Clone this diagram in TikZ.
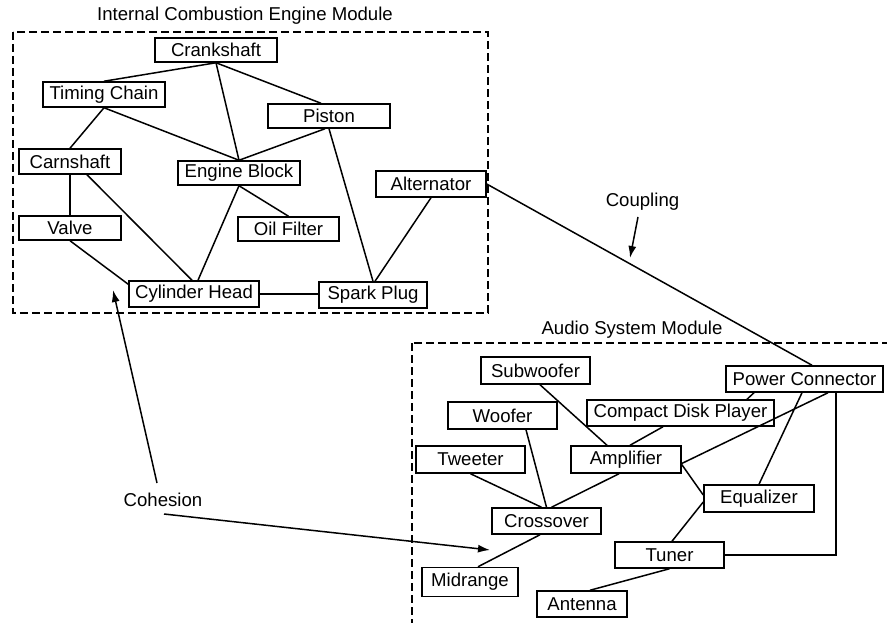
\documentclass[tikz,border=0pt]{standalone}
\usepackage{fontspec}
\setmainfont{Liberation Sans}
\usepackage{tikz}
\usetikzlibrary{positioning}
\usetikzlibrary{calc}
\usetikzlibrary{arrows.meta}

\begin{document}
\begin{tikzpicture}[x=1pt, y=-1pt, line width=1.5pt,
    font=\fontsize{18.6}{22}\selectfont,
    part/.style={draw, rectangle, inner sep=0pt, minimum height=26pt},
    module/.style={dashed, dash pattern=on 8pt off 4pt},
    pointer/.style={-{Latex[length=12pt,width=8pt]}}]
    \clip (0,0) rectangle (887,623);

    % engine module
    \draw[module] (13,32) rectangle (488,313);
    \node (enginetitle) at (245,16) {Internal Combustion Engine Module};

    \node[part, minimum width=122pt, minimum height=24pt] (crank) at (216,50) {Crankshaft};
    \node[part, minimum width=122pt, minimum height=25pt] (chain) at (104,94.5) {Timing Chain};
    \node[part, minimum width=122pt, minimum height=24pt] (piston) at (329,116) {Piston};
    \node[part, minimum width=102pt, minimum height=25pt] (cam) at (70,161.5) {Carnshaft};
    \node[part, minimum width=122pt, minimum height=24pt] (block) at (239,173) {Engine Block};
    \node[part, minimum width=110pt] (alt) at (431,184) {Alternator};
    \node[part, minimum width=102pt, minimum height=24pt] (valve) at (70,228) {Valve};
    \node[part, minimum width=101pt, minimum height=24pt] (oil) at (288.5,229) {Oil Filter};
    \node[part, minimum width=130pt] (head) at (194,294) {Cylinder Head};
    \node[part, minimum width=108pt] (plug) at (373,295) {Spark Plug};

    \draw (crank.south) -- (chain.north);
    \draw (crank.south) -- ($(piston.north)+(-8,0)$);
    \draw (crank.south) -- (block.north);
    \draw (chain.south) -- (cam.north);
    \draw (chain.south) -- (block.north);
    \draw ($(piston.south)+(-4,0)$) -- (block.north);
    \draw (piston.south) -- (plug.north);
    \draw (cam.south) -- (valve.north);
    \draw ($(cam.south)+(17,0)$) -- ($(head.north)+(-2,0)$);
    \draw (block.south) -- ($(head.north)+(4,0)$);
    \draw (block.south) -- (oil.north);
    \draw (valve.south) -- ($(head.north west)+(0,4)$);
    \draw (head.east) -- (head.east -| plug.west);
    \draw (alt.south) -- ($(plug.north)+(2,0)$);

    % audio module
    \draw[module] (412,343) rectangle (900,640);
    \node (audiotitle) at (632,330) {Audio System Module};

    \node[part, minimum width=109pt, minimum height=27pt] (sub) at (535.5,370.5) {Subwoofer};
    \node[part, minimum width=157pt] (power) at (804.5,379) {Power Connector};
    \node[part, minimum width=109pt, minimum height=27pt] (woofer) at (502.5,415.5) {Woofer};
    \node[part, minimum width=187pt] (cd) at (680.5,413) {Compact Disk Player};
    \node[part, minimum width=109pt, minimum height=27pt] (tweeter) at (470.5,459.5) {Tweeter};
    \node[part, minimum width=110pt, minimum height=27pt] (amp) at (626,459.5) {Amplifier};
    \node[part, minimum width=110pt, minimum height=27pt] (eq) at (759,498.5) {Equalizer};
    \node[part, minimum width=109pt] (cross) at (546.5,521) {Crossover};
    \node[part, minimum width=109pt] (tuner) at (669.5,555) {Tuner};
    \node[part, minimum width=96pt, minimum height=29pt] (mid) at (470,582) {Midrange};
    \node[part, minimum width=90pt] (ant) at (582,604) {Antenna};

    \draw ($(sub.south)+(4.5,0)$) -- ($(amp.north)+(-19,0)$);
    \draw ($(woofer.south)+(23.5,0)$) -- (cross.north);
    \draw (tweeter.south) -- ($(cross.north)+(-5,0)$);
    \draw ($(amp.south)+(-7,0)$) -- ($(cross.north)+(5,0)$);
    \draw ($(cd.south)+(-17.5,0)$) -- ($(amp.north)+(4,0)$);
    \draw ($(power.south)+(-50.5,0)$) -- ($(cd.north)+(66.5,0)$);
    \draw ($(power.south)+(23.5,0)$) -- ($(amp.east)+(0,4)$);
    \draw ($(power.south)+(-2.5,0)$) -- (eq.north);
    \draw ($(power.south)+(31.5,0)$) |- (tuner.east);
    \draw ($(amp.east)+(0,5)$) -- ($(eq.west)+(0,-3.5)$);
    \draw ($(eq.west)+(0,3.5)$) -- ($(tuner.north)+(2.5,0)$);
    \draw ($(cross.south)+(-6.5,0)$) -- ($(mid.north)+(8,0)$);
    \draw (tuner.south) -- ($(ant.north)+(8,0)$);

    % coupling between the modules
    \draw (alt.east) -- ($(power.north)+(7.5,0)$);

    % labels
    \node (coupling) at (642.5,202) {Coupling};
    \coordinate (couplingtip) at (630,258);
    \draw[pointer] ($(coupling)+(-4.5,15)$) -- (couplingtip);

    \node (cohesion) at (163,500) {Cohesion};
    \coordinate (cohesiontipA) at (113,290);
    \coordinate (cohesiontipB) at (490,550);
    \draw[pointer] ($(cohesion)+(-6,-17)$) -- (cohesiontipA);
    \draw[pointer] ($(cohesion)+(1,14)$) -- (cohesiontipB);
\end{tikzpicture}
\end{document}
